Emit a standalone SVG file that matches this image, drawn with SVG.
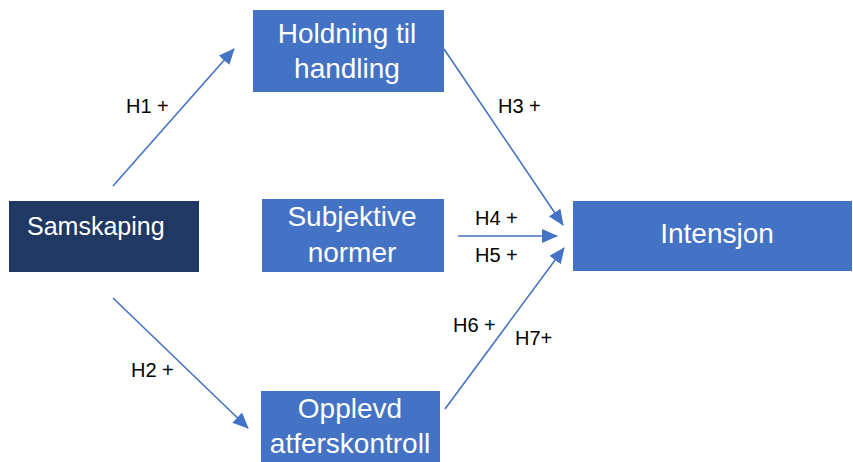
<svg xmlns="http://www.w3.org/2000/svg" width="853" height="462" viewBox="0 0 853 462">
<defs>
<style>
.box{fill:#4472C4;}
.dark{fill:#1F3864;}
.bt{font-family:"Liberation Sans",Arial,sans-serif;font-size:28px;fill:#FFFFFF;text-anchor:middle;}
.lbl{font-family:"Liberation Sans",Arial,sans-serif;font-size:20px;fill:#000000;}
.edge{stroke:#4472C4;stroke-width:1.6;fill:none;marker-end:url(#ah);}
</style>
<marker id="ah" markerUnits="userSpaceOnUse" markerWidth="16" markerHeight="14" viewBox="0 0 16 14" refX="15" refY="7" orient="auto">
<path d="M0,0 L16,7 L0,14 Z" fill="#4472C4"/>
</marker>
</defs>
<rect width="853" height="462" fill="#FFFFFF"/>
<g id="connectors">
<line class="edge" x1="113" y1="186" x2="234" y2="49"/>
<line class="edge" x1="113" y1="298" x2="248" y2="428"/>
<line class="edge" x1="444" y1="49" x2="563" y2="225"/>
<line class="edge" x1="458" y1="236" x2="557" y2="236"/>
<line class="edge" x1="445" y1="409" x2="564" y2="248"/>
<text class="lbl" x="126" y="113">H1 +</text>
<text class="lbl" x="131" y="377">H2 +</text>
<text class="lbl" x="498" y="113">H3 +</text>
<text class="lbl" x="475" y="225">H4 +</text>
<text class="lbl" x="475" y="262">H5 +</text>
<text class="lbl" x="453" y="332">H6 +</text>
<text class="lbl" x="515" y="345">H7+</text>
</g>
<g id="samskaping">
<rect class="dark" x="9" y="201" width="190" height="71"/>
<text class="bt" x="27" y="235" style="text-anchor:start;font-size:25px">Samskaping</text>
</g>
<g id="holdning">
<rect class="box" x="253" y="10" width="191" height="82"/>
<text class="bt" x="347" y="43">Holdning til</text>
<text class="bt" x="347" y="78">handling</text>
</g>
<g id="subjektive">
<rect class="box" x="262" y="199" width="182" height="73"/>
<text class="bt" x="352" y="226">Subjektive</text>
<text class="bt" x="352" y="262">normer</text>
</g>
<g id="opplevd">
<rect class="box" x="261" y="391" width="179" height="71"/>
<text class="bt" x="350" y="418">Opplevd</text>
<text class="bt" x="350" y="453">atferskontroll</text>
</g>
<g id="intensjon">
<rect class="box" x="573" y="201" width="279" height="70"/>
<text class="bt" x="717" y="243">Intensjon</text>
</g>
</svg>
